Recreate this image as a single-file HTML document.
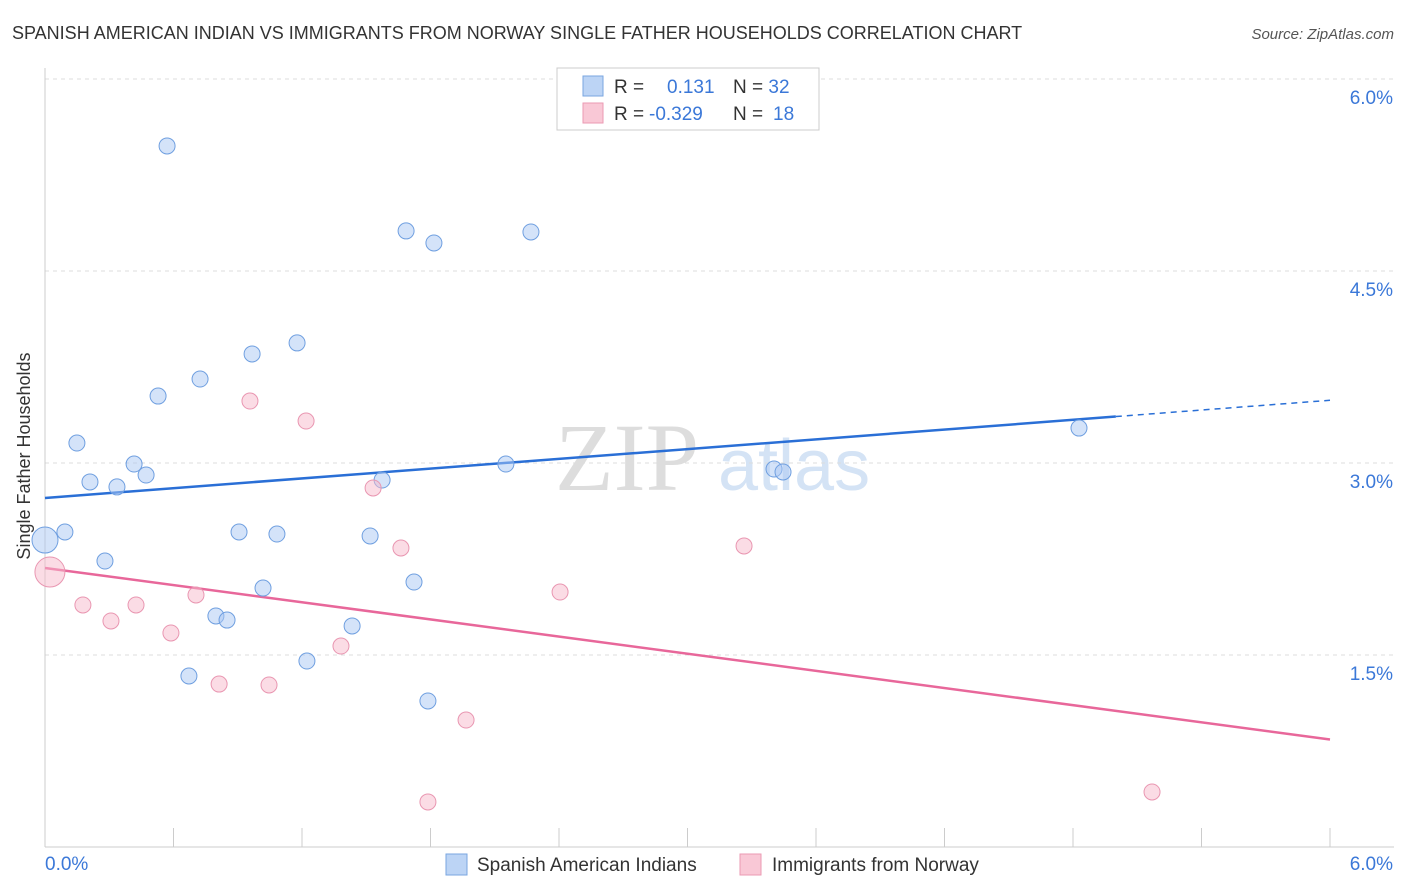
<!DOCTYPE html>
<html><head><meta charset="utf-8"><style>
body{margin:0;background:#fff;font-family:"Liberation Sans",sans-serif;}
svg{display:block}
</style></head><body>
<svg id="chart" width="1406" height="892" xmlns="http://www.w3.org/2000/svg">
<text x="12" y="39" font-size="18" fill="#333">SPANISH AMERICAN INDIAN VS IMMIGRANTS FROM NORWAY SINGLE FATHER HOUSEHOLDS CORRELATION CHART</text>
<text x="1394" y="39" font-size="15" fill="#555" font-style="italic" text-anchor="end">Source: ZipAtlas.com</text>
<text x="30" y="456" font-size="18" fill="#333" text-anchor="middle" transform="rotate(-90 30 456)">Single Father Households</text>
<g>
<text x="555" y="490" font-size="96" fill="#ddd" font-family="Liberation Serif">ZIP</text>
<text x="718" y="490" font-size="72" fill="#d4e3f5">atlas</text>
</g>
<g id="grid"></g><g id="axes"></g><g id="lines"></g><g id="pts"></g>
<g>
<rect x="557" y="68" width="262" height="62" fill="#fff" stroke="#ccc"/>
<rect x="583" y="76" width="20" height="20" fill="#bcd4f5" stroke="#7aa6e0"/>
<rect x="583" y="103" width="20" height="20" fill="#f9c8d6" stroke="#eb9ab3"/>
<text x="614" y="93" font-size="19" fill="#333">R = <tspan x="667" fill="#3b78d8">0.131</tspan><tspan x="733" fill="#333">N = </tspan><tspan fill="#3b78d8">32</tspan></text>
<text x="614" y="120" font-size="19" fill="#333">R = <tspan x="649" fill="#3b78d8">-0.329</tspan><tspan x="733" fill="#333">N = </tspan><tspan x="773" fill="#3b78d8">18</tspan></text>
</g>
<g>
<rect x="446" y="854" width="21" height="21" fill="#bcd4f5" stroke="#7aa6e0"/>
<text x="477" y="871" font-size="19" fill="#333">Spanish American Indians</text>
<rect x="740" y="854" width="21" height="21" fill="#f9c8d6" stroke="#eb9ab3"/>
<text x="772" y="871" font-size="19" fill="#333">Immigrants from Norway</text>
</g>
</svg>
<script>
const blueX=[0.570,1.686,1.816,2.269,1.177,0.967,0.724,0.528,0.149,0.416,0.472,0.210,0.336,1.574,2.152,3.404,3.446,4.828,0.093,0.0,0.906,1.083,1.518,0.280,1.018,1.723,0.798,0.850,1.434,1.223,0.672,1.788];
const blueY=[5.477,4.813,4.719,4.805,3.938,3.852,3.656,3.523,3.156,2.992,2.906,2.852,2.813,2.867,2.992,2.953,2.930,3.273,2.461,2.398,2.461,2.445,2.430,2.234,2.023,2.070,1.805,1.773,1.727,1.453,1.336,1.141];
const blueR=[8,8,8,8,8,8,8,8,8,8,8,8,8,8,8,8,8,8,8,13,8,8,8,8,8,8,8,8,8,8,8,8];
const pinkX=[0.023,0.177,0.308,0.425,0.705,0.588,0.957,1.219,1.532,1.662,0.813,1.046,1.382,1.966,1.788,2.405,3.264,5.169];
const pinkY=[2.148,1.891,1.766,1.891,1.969,1.672,3.484,3.328,2.805,2.336,1.273,1.266,1.570,0.992,0.352,1.992,2.352,0.430];
const pinkR=[15,8,8,8,8,8,8,8,8,8,8,8,8,8,8,8,8,8];
const yTicks=[1.5,3.0,4.5,6.0];
const yTickLabels=["1.5%","3.0%","4.5%","6.0%"];
const blueLine=[2.727,3.49];
const pinkLine=[2.18,0.84];
const blueSolidEnd=5.0;
const X=v=>45+v/6*1285, Y=v=>847-v*128;
const NS="http://www.w3.org/2000/svg";
function mk(p,t,a){const e=document.createElementNS(NS,t);for(const k in a)e.setAttribute(k,a[k]);document.getElementById(p).appendChild(e);return e;}
yTicks.forEach((t,i)=>{
 const l=mk('grid','line',{x1:45,x2:1394,y1:Y(t),y2:Y(t),stroke:'#ddd','stroke-dasharray':'4,4'});
 
 
 const tx=mk('grid','text',{x:1393,y:Y(t)+25,'font-size':19,fill:'#3b78d8','text-anchor':'end'});
 tx.textContent=yTickLabels[i];
 
 
});
let a=mk('axes','line',{x1:45,x2:45,y1:68,y2:847,stroke:'#ccc'});


a=mk('axes','line',{x1:45,x2:1394,y1:847,y2:847,stroke:'#ccc'});


for(let i=1;i<=10;i++){const t=mk('axes','line',{x1:X(i*0.6),x2:X(i*0.6),y1:828,y2:847,stroke:'#ccc'});
 
 }
let xl=mk('axes','text',{x:45,y:870,'font-size':19,fill:'#3b78d8'});xl.textContent='0.0%';


xl=mk('axes','text',{x:1393,y:870,'font-size':19,fill:'#3b78d8','text-anchor':'end'});xl.textContent='6.0%';


const bAt=x=>blueLine[0]+(blueLine[1]-blueLine[0])*x/6;
let ln=mk('lines','line',{x1:X(0),y1:Y(bAt(0)),x2:X(blueSolidEnd),y2:Y(bAt(blueSolidEnd)),stroke:'#2a6fd6','stroke-width':2.5});


ln=mk('lines','line',{x1:X(blueSolidEnd),y1:Y(bAt(blueSolidEnd)),x2:X(6),y2:Y(bAt(6)),stroke:'#2a6fd6','stroke-width':1.5,'stroke-dasharray':'6,5'});


ln=mk('lines','line',{x1:X(0),y1:Y(pinkLine[0]),x2:X(6),y2:Y(pinkLine[1]),stroke:'#e8679a','stroke-width':2.5});


blueX.forEach((x,i)=>{const c=mk('pts','circle',{cx:X(x),cy:Y(blueY[i]),r:blueR[i],fill:'rgba(170,200,243,0.5)',stroke:'#6f9fe0','stroke-width':1});
 
 });
pinkX.forEach((x,i)=>{const c=mk('pts','circle',{cx:X(x),cy:Y(pinkY[i]),r:pinkR[i],fill:'rgba(247,185,204,0.5)',stroke:'#e996b1','stroke-width':1});
 
 });
</script>
</body></html>
